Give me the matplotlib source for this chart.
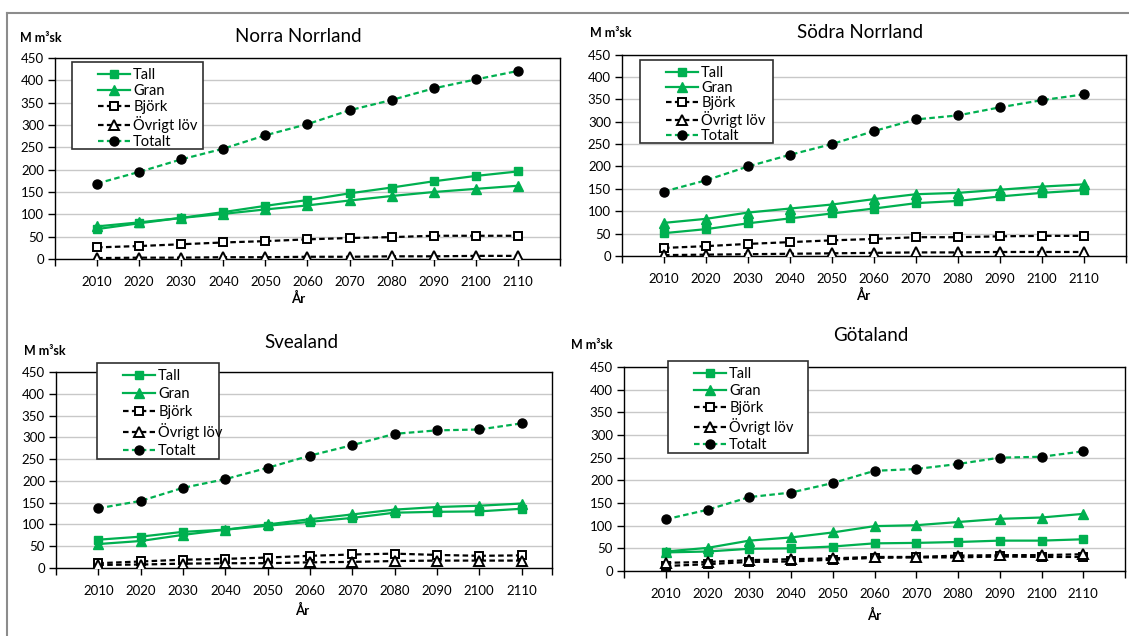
import matplotlib
matplotlib.use("Agg")
import matplotlib.pyplot as plt
from matplotlib.patches import Rectangle
from matplotlib.lines import Line2D

plt.rcParams['font.family'] = ['Lato', 'DejaVu Sans']

W, H = 1129, 636

years = [2010, 2020, 2030, 2040, 2050, 2060, 2070, 2080, 2090, 2100, 2110]
series_names = ["Tall", "Gran", "Björk", "Övrigt löv", "Totalt"]

# Norra Norrland
nn_tall = [67, 80, 92, 105, 119, 132, 147, 160, 174, 186, 196]
nn_gran = [73, 82, 92, 101, 111, 120, 131, 141, 150, 157, 164]
nn_bjork = [26, 29, 33, 37, 40, 44, 47, 49, 52, 52, 52]
nn_ovrigt = [2, 3, 3, 4, 4, 5, 5, 6, 6, 7, 7]
nn_totalt = [169, 195, 223, 247, 277, 302, 333, 356, 382, 402, 421]

# Södra Norrland
sn_tall = [51, 60, 73, 84, 95, 106, 118, 123, 133, 141, 147]
sn_gran = [74, 83, 97, 106, 115, 127, 138, 141, 148, 155, 160]
sn_bjork = [18, 22, 27, 31, 35, 38, 42, 42, 44, 45, 45]
sn_ovrigt = [2, 3, 4, 5, 6, 7, 8, 8, 9, 9, 9]
sn_totalt = [144, 169, 200, 226, 250, 279, 305, 314, 332, 348, 361]

# Svealand
sv_tall = [65, 72, 83, 88, 97, 106, 115, 127, 129, 130, 136]
sv_gran = [55, 62, 76, 88, 100, 112, 123, 134, 140, 143, 148]
sv_bjork = [11, 15, 19, 21, 24, 28, 31, 33, 30, 28, 29]
sv_ovrigt = [7, 8, 10, 11, 11, 13, 14, 16, 17, 17, 17]
sv_totalt = [137, 154, 184, 204, 230, 258, 282, 308, 316, 318, 332]

# Götaland
go_tall = [41, 43, 49, 50, 54, 61, 62, 64, 67, 67, 70]
go_gran = [43, 51, 67, 74, 85, 99, 101, 108, 115, 118, 126]
go_bjork = [11, 15, 20, 21, 25, 29, 30, 30, 32, 31, 31]
go_ovrigt = [18, 20, 24, 26, 28, 31, 31, 34, 35, 35, 37]
go_totalt = [114, 135, 163, 173, 194, 221, 225, 236, 250, 252, 264]

green = "#00B050"

fig = plt.figure(figsize=(W / 100, H / 100), dpi=100)


def fx(x):
    return x / W


def fy(y):
    return 1 - y / H


def panel(box, xmax, title, title_xy, unit_xy, ar_xy, leg_box, leg_spacing, data):
    l, t, r, b = box
    ax = fig.add_axes([fx(l), fy(b), fx(r - l), (b - t) / H])
    tall, gran, bjork, ovrigt, totalt = data
    lw = 1.6
    h1, = ax.plot(years, tall, color=green, lw=lw, marker="s", ms=6, zorder=3)
    h2, = ax.plot(years, gran, color=green, lw=lw, marker="^", ms=7, zorder=3)
    h3, = ax.plot(years, bjork, color="black", lw=lw, ls=(0, (2.5, 1.5)), marker="s",
                  ms=6, mfc="white", mec="black", mew=1.4, zorder=4)
    h4, = ax.plot(years, ovrigt, color="black", lw=lw, ls=(0, (2.5, 1.5)), marker="^",
                  ms=6.5, mfc="white", mec="black", mew=1.4, zorder=4)
    h5, = ax.plot(years, totalt, color=green, lw=lw, ls=(0, (2.5, 1.5)), marker="o",
                  ms=6.5, mfc="black", mec="black", zorder=5)

    ax.set_xlim(2000, xmax)
    ax.set_ylim(0, 450)
    ax.set_yticks(range(0, 451, 50))
    ax.set_xticks([2000] + years + [xmax])
    ax.set_xticklabels([""] + [str(y) for y in years] + [""])
    ax.tick_params(direction="out", length=5, width=1, color="black",
                   labelsize=9.5, pad=3)
    ax.tick_params(axis="x", pad=7)
    ax.grid(axis="y", color="#c8c8c8", lw=1)
    ax.set_axisbelow(True)
    for s in ax.spines.values():
        s.set_color("black")
        s.set_linewidth(1)

    fig.text(fx(title_xy[0]), fy(title_xy[1]), title, fontsize=13.5,
             ha="center", va="center")
    fig.text(fx(unit_xy[0]), fy(unit_xy[1]), "M m³sk", fontsize=9,
             fontweight="bold", ha="left", va="center")
    fig.text(fx(ar_xy[0]), fy(ar_xy[1]), "År", fontsize=9.5,
             fontweight="bold", ha="center", va="center")

    bl, bt, br, bb = leg_box
    fig.add_artist(Rectangle((fx(bl), fy(bb)), fx(br - bl), (bb - bt) / H,
                             transform=fig.transFigure, facecolor="white",
                             edgecolor="#303030", lw=1.2, zorder=2))
    fig.legend([h1, h2, h3, h4, h5], series_names, loc="upper left",
               bbox_to_anchor=(fx(bl + 16), fy(bt - 4)), frameon=False,
               fontsize=10.5, handlelength=2.2, handletextpad=0.2,
               labelspacing=leg_spacing, borderpad=0.2)
    return ax


panel((55, 58, 560, 259), 2120, "Norra Norrland", (298, 37), (20, 38), (298, 298),
      (72, 62, 203, 149), 0.14,
      (nn_tall, nn_gran, nn_bjork, nn_ovrigt, nn_totalt))
panel((622, 54.5, 1126, 256), 2120, "Södra Norrland", (860, 33), (590, 33), (863, 295),
      (640, 60, 773, 143), 0.07,
      (sn_tall, sn_gran, sn_bjork, sn_ovrigt, sn_totalt))
panel((56, 372, 552, 568), 2117.2, "Svealand", (301, 342), (24, 351), (302, 610),
      (97, 363, 219, 459), 0.27,
      (sv_tall, sv_gran, sv_bjork, sv_ovrigt, sv_totalt))
panel((624, 367, 1125, 571), 2120, "Götaland", (871, 335), (571, 345), (874, 615),
      (668, 361, 808, 453), 0.2,
      (go_tall, go_gran, go_bjork, go_ovrigt, go_totalt))

# outer frame (top and left edge)
fig.add_artist(Line2D([fx(7), 1], [fy(13), fy(13)], color="#8c8c8c", lw=1.5))
fig.add_artist(Line2D([fx(7), fx(7)], [0, fy(13)], color="#8c8c8c", lw=1.5))

fig.savefig("out.png", dpi=100)
